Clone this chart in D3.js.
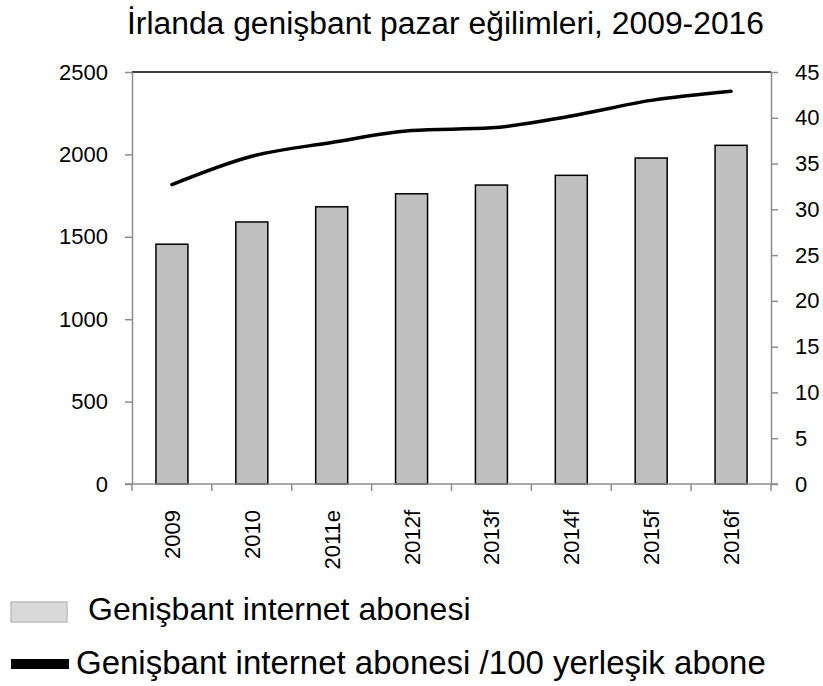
<!DOCTYPE html>
<html>
<head>
<meta charset="utf-8">
<script src="https://cdn.jsdelivr.net/npm/d3@7"></script>
<style>
  body { margin: 0; background: #fff; }
  svg text { font-family: "Liberation Sans", Arial, sans-serif; fill: #000; }
  .axis path, .axis line { stroke: #8c8c8c; stroke-width: 1.5px; }
</style>
</head>
<body>
<div id="chart"></div>
<script>
// chart data
const years = ["2009", "2010", "2011e", "2012f", "2013f", "2014f", "2015f", "2016f"];
const subscribers = [1455, 1590, 1682, 1761, 1814, 1873, 1978, 2055];
const per100 = [32.7, 35.8, 37.3, 38.6, 38.9, 40.2, 41.9, 42.9];
const leftTicks = [0, 500, 1000, 1500, 2000, 2500];
const rightTicks = [0, 5, 10, 15, 20, 25, 30, 35, 40, 45];
const title = "İrlanda genişbant pazar eğilimleri, 2009-2016";
const legendLabels = ["Genişbant internet abonesi", "Genişbant internet abonesi /100 yerleşik abone"];

const W = 823, H = 686;
const margin = {top: 72, right: 52, bottom: 202, left: 132};
const width = W - margin.left - margin.right,
      height = H - margin.top - margin.bottom;

const svg = d3.select("#chart")
  .append("svg")
  .attr("width", W)
  .attr("height", H);

const g = svg.append("g")
  .attr("transform", `translate(${margin.left},${margin.top})`);

// scales
const x = d3.scaleBand().domain(years).range([0, width]);
const yLeft = d3.scaleLinear().domain([0, 2500]).range([height, 0]);
const yRight = d3.scaleLinear().domain([0, 45]).range([height, 0]);
const barW = 32;

// top border
g.append("line")
  .attr("x1", 0).attr("x2", width)
  .attr("y1", 0).attr("y2", 0)
  .attr("stroke", "#000")
  .attr("stroke-width", 1.5);

// bars
g.selectAll("rect.bar")
  .data(subscribers)
  .join("rect")
  .attr("class", "bar")
  .attr("x", (d, i) => x(years[i]) + x.bandwidth() / 2 - barW / 2)
  .attr("width", barW)
  .attr("y", d => yLeft(d))
  .attr("height", d => height - yLeft(d))
  .attr("fill", "#c0c0c0")
  .attr("stroke", "#000")
  .attr("stroke-width", 1.5);

// line
const line = d3.line()
  .x((d, i) => x(years[i]) + x.bandwidth() / 2)
  .y(d => yRight(d))
  .curve(d3.curveMonotoneX);

g.append("path")
  .datum(per100)
  .attr("d", line)
  .attr("fill", "none")
  .attr("stroke", "#000")
  .attr("stroke-width", 3.5)
  .attr("stroke-linecap", "round");

// axes
const leftAxis = g.append("g")
  .attr("class", "axis")
  .call(d3.axisLeft(yLeft).tickValues(leftTicks).tickFormat(d3.format("d"))
    .tickSize(7).tickSizeOuter(0).tickPadding(17));

const rightAxis = g.append("g")
  .attr("class", "axis")
  .attr("transform", `translate(${width},0)`)
  .call(d3.axisRight(yRight).tickValues(rightTicks).tickFormat(d3.format("d"))
    .tickSize(7).tickSizeOuter(0).tickPadding(17));

// bottom axis: ticks on band edges
const bottomAxis = g.append("g")
  .attr("class", "axis")
  .attr("transform", `translate(0,${height})`);

bottomAxis.append("line")
  .attr("x1", -7).attr("x2", width + 7)
  .attr("y1", 0).attr("y2", 0);

bottomAxis.selectAll("line.tick")
  .data(years.concat([null]))
  .join("line")
  .attr("class", "tick")
  .attr("x1", (d, i) => i < years.length ? x(d) : width)
  .attr("x2", (d, i) => i < years.length ? x(d) : width)
  .attr("y1", 0).attr("y2", 7);

bottomAxis.selectAll("text.lab")
  .data(years)
  .join("text")
  .attr("class", "lab")
  .text(d => d)
  .attr("transform", d => `translate(${x(d) + x.bandwidth() / 2 + 8},26) rotate(-90)`)
  .style("text-anchor", "end")
  .style("font-size", "22px");

[leftAxis, rightAxis].forEach(a => {
  a.selectAll("text").style("font-size", "22px").attr("fill", "#000");
});

// title
svg.append("text")
  .text(title)
  .attr("x", 127)
  .attr("y", 34)
  .attr("textLength", 637)
  .attr("lengthAdjust", "spacingAndGlyphs")
  .style("font-size", "31px");

// legend
svg.append("rect")
  .attr("x", 11).attr("y", 602)
  .attr("width", 56).attr("height", 20)
  .attr("fill", "#d9d9d9")
  .attr("stroke", "#bfbfbf")
  .attr("stroke-width", 1.5);

svg.append("text")
  .text(legendLabels[0])
  .attr("x", 88)
  .attr("y", 620)
  .style("font-size", "32px");

svg.append("rect")
  .attr("x", 11).attr("y", 659)
  .attr("width", 58).attr("height", 10)
  .attr("fill", "#000");

svg.append("text")
  .text(legendLabels[1])
  .attr("x", 76)
  .attr("y", 674)
  .style("font-size", "33px");
</script>
</body>
</html>
